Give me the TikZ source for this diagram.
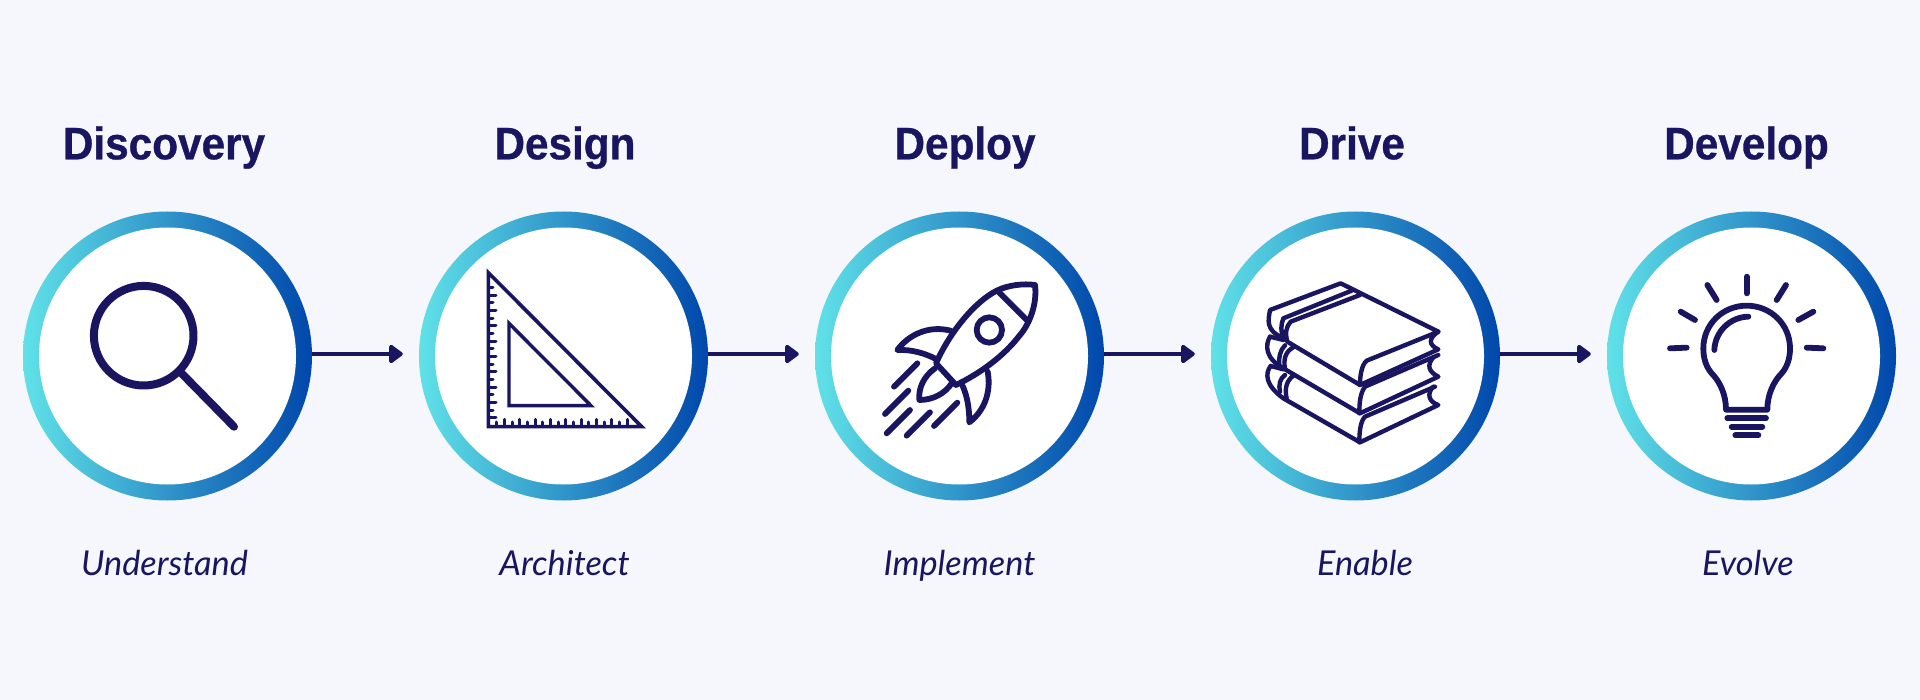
\documentclass[tikz,border=0pt]{standalone}
\usepackage{fontspec}
\usetikzlibrary{arrows.meta}
\newfontfamily\titlefont[FakeStretch=0.93,FakeBold=0.7]{Liberation Sans}
\newfontfamily\subfont{Lato}
\definecolor{bgc}{HTML}{F5F7FC}
\definecolor{ink}{HTML}{1A1560}
\definecolor{ringL}{HTML}{60E2E8}
\definecolor{ringR}{HTML}{0047AB}
\tikzset{
  ring/.style={circle,draw=none,inner sep=0pt,minimum size=289pt,left color=ringL,right color=ringR},
  disc/.style={circle,draw=none,fill=white,inner sep=0pt,minimum size=257pt},
  heading/.style={anchor=base,text=ink,inner sep=0pt,font=\titlefont\bfseries\fontsize{45.5}{46}\selectfont},
  caption/.style={anchor=base,text=ink,inner sep=0pt,font=\subfont\itshape\fontsize{34.3}{35}\selectfont},
  conn/.style={draw=ink,line width=4pt,-{Triangle[length=15pt,width=21pt,round]}},
  icon/.style={draw=ink,line width=5.8pt,line cap=round,line join=round},
  zoomed/.style={x=0.33333pt,y=-0.33333pt}
}
\begin{document}
\begin{tikzpicture}[x=1pt,y=-1pt]
\useasboundingbox (0,0) rectangle (1920,700);
\fill[bgc] (0,0) rectangle (1920,700);
% rings
\foreach \n/\cx in {1/167.5,2/563.5,3/959.5,4/1355.5,5/1751.5}{
  \node[ring] (c\n) at (\cx,356) {};
  \node[disc] (d\n) at (\cx,356) {};
}
% connectors
\foreach \a/\b in {1/2,2/3,3/4,4/5}{
  \draw[conn] ([yshift=2pt]c\a.east) -- ([yshift=2pt,xshift=-16pt]c\b.west);
}
% headings
\node[heading] (h1) at (164,159.3) {Discovery};
\node[heading] (h2) at (565,159.3) {Design};
\node[heading] (h3) at (965,159.3) {Deploy};
\node[heading] (h4) at (1352,159.3) {Drive};
\node[heading] (h5) at (1746.5,159.3) {Develop};
% captions
\node[caption] (s1) at (164.5,575.7) {Understand};
\node[caption] (s2) at (564.5,575.7) {Architect};
\node[caption] (s3) at (959.5,575.7) {Implement};
\node[caption] (s4) at (1365,575.7) {Enable};
\node[caption] (s5) at (1748,575.7) {Evolve};
% magnifier
\draw[icon,line width=8pt] (143.7,335.7) circle[radius=49.8];
\draw[icon,line width=8pt] (180,371.7) -- (234,426.7);
% set square
\begin{scope}[shift={(400,200)},zoomed]
  \draw[icon,line width=3.6pt,line join=miter] (265,218) -- (265,680) -- (725,680) -- cycle;
  \draw[icon,line width=3.4pt,line join=miter] (327,370) -- (327,617) -- (573,617) -- cycle;
  \foreach \i in {0,...,17}{
    \pgfmathsetmacro{\yy}{262+23.05*\i}
    \pgfmathsetmacro{\ll}{mod(\i,2)==1 ? 288 : 279}
    \draw[icon,line width=3pt] (265,\yy) -- (\ll,\yy);
  }
  \foreach \i in {0,...,17}{
    \pgfmathsetmacro{\xx}{290+23.03*\i}
    \pgfmathsetmacro{\ll}{mod(\i,2)==1 ? 658 : 666}
    \draw[icon,line width=3pt] (\xx,680) -- (\xx,\ll);
  }
\end{scope}
% rocket
\begin{scope}[shift={(860,260)},zoomed]
  \draw[icon] (228,310) .. controls (270,215) and (345,125) .. (410,92)
     .. controls (445,75) and (490,70) .. (525,75)
     .. controls (532,130) and (510,190) .. (480,225)
     .. controls (430,290) and (360,340) .. (288,375) -- cycle;
  \draw[icon] (413,93) -- (505,185);
  \draw[icon] (388,210) circle[radius=38];
  \draw[icon] (272,212) .. controls (205,195) and (145,225) .. (112,270)
     .. controls (155,268) and (195,280) .. (228,297);
  \draw[icon] (383,335) .. controls (395,400) and (370,455) .. (328,487)
     .. controls (328,445) and (322,410) .. (308,378);
  \draw[icon] (225,325) .. controls (190,350) and (175,385) .. (178,420)
     .. controls (220,420) and (255,400) .. (275,370);
  \draw[icon] (172,310) -- (102,380);
  \draw[icon] (145,392) -- (75,462);
  \draw[icon] (150,450) -- (80,520);
  \draw[icon] (210,457) -- (140,527);
  \draw[icon] (292,428) -- (222,498);
\end{scope}
% books
\begin{scope}[shift={(1250,270)},zoomed,icon/.append style={line width=4.4pt}]
  \draw[icon] (100,205) .. controls (45,180) and (55,150) .. (60,120) -- (272,40) -- (565,185)
     -- (350,272) .. controls (335,285) and (330,315) .. (330,345) -- (112,215)
     .. controls (105,190) and (108,170) .. (122,155) -- (330,75);
  \draw[icon] (100,205) .. controls (92,185) and (92,165) .. (100,145) -- (305,62);
  \draw[icon] (565,185) .. controls (535,205) and (535,225) .. (565,238) -- (330,345);
  % middle book
  \draw[icon] (60,200) .. controls (45,225) and (45,265) .. (100,295) -- (330,430) -- (565,320)
     .. controls (535,305) and (530,285) .. (550,262);
  \draw[icon] (88,285) .. controls (85,265) and (90,240) .. (105,226);
  \draw[icon] (105,295) .. controls (100,270) and (105,245) .. (130,232);
  \draw[icon] (565,255) -- (345,350) .. controls (330,370) and (328,400) .. (328,430);
  \draw[icon] (60,200) -- (100,210);
  % lower book
  \draw[icon] (62,288) .. controls (45,310) and (45,345) .. (100,385) -- (330,517) -- (565,405)
     .. controls (535,395) and (530,370) .. (550,350);
  \draw[icon] (90,365) .. controls (85,345) and (90,325) .. (105,315);
  \draw[icon] (110,385) .. controls (103,355) and (110,330) .. (132,316);
  \draw[icon] (555,350) -- (345,440) .. controls (330,455) and (328,490) .. (328,517);
  \draw[icon] (62,288) -- (100,298);
\end{scope}
% bulb
\begin{scope}[shift={(1650,265)},zoomed]
  \draw[icon] (228,434) .. controls (228,390) and (210,350) .. (185,325)
     .. controls (168,305) and (160,280) .. (160,250)
     .. controls (160,178) and (218,122) .. (290,122)
     .. controls (362,122) and (420,178) .. (420,250)
     .. controls (420,280) and (412,305) .. (395,325)
     .. controls (370,350) and (352,390) .. (352,434) -- cycle;
  \draw[icon] (193,255) .. controls (195,200) and (240,156) .. (295,155);
  \draw[icon] (290,35) -- (290,85);
  \draw[icon] (172,60) -- (200,105);
  \draw[icon] (92,140) -- (135,165);
  \draw[icon] (60,250) -- (110,248);
  \draw[icon] (490,140) -- (445,165);
  \draw[icon] (408,60) -- (380,105);
  \draw[icon] (470,248) -- (520,250);
  \draw[icon] (232,460) -- (348,460);
  \draw[icon] (245,485) -- (337,485);
  \draw[icon] (256,511) -- (325,511);
\end{scope}
\end{tikzpicture}
\end{document}
